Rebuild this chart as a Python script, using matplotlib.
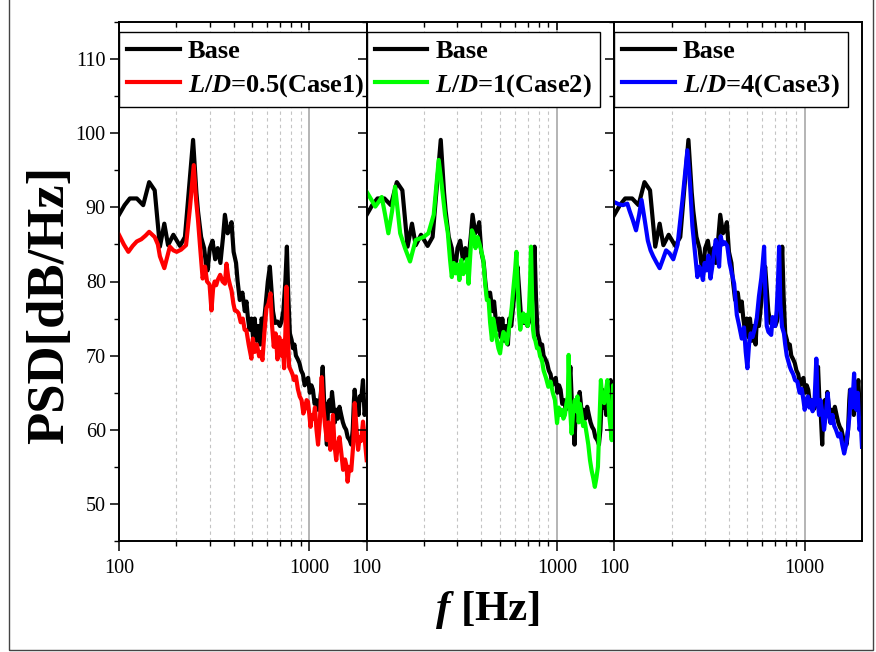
import matplotlib
matplotlib.use('Agg')
import matplotlib.pyplot as plt
from matplotlib.ticker import FixedLocator, MultipleLocator, NullFormatter, FixedFormatter
from matplotlib.patches import Rectangle

plt.rcParams['font.family'] = ['Liberation Serif', 'DejaVu Serif']
plt.rcParams['mathtext.fontset'] = 'custom'
plt.rcParams['mathtext.rm'] = 'Liberation Serif:bold'
plt.rcParams['mathtext.it'] = 'Liberation Serif:italic:bold'
plt.rcParams['mathtext.bf'] = 'Liberation Serif:bold'

# ---------------- data ----------------
base_f = [100, 107, 114, 124, 134, 144, 154, 164, 173, 181, 193, 209, 222, 245, 255, 260,
          270, 280, 286, 292, 300, 310, 320, 330, 341, 352, 360, 372, 382, 390, 400, 412,
          420, 431, 445, 458, 467, 476, 485, 496, 506, 516, 528, 540, 552, 561, 575, 590,
          605, 620, 632, 644, 660, 680, 700, 714, 730, 748, 762, 775, 790, 807, 820, 835,
          850, 870, 887, 905, 925, 945, 965, 985, 1005, 1025, 1044, 1065, 1090, 1111, 1130,
          1150, 1175, 1195, 1215, 1236, 1255, 1275, 1295, 1315, 1340, 1362, 1384, 1410,
          1440, 1470, 1500, 1528, 1560, 1590, 1628, 1660, 1690, 1715, 1730, 1760, 1790,
          1812, 1838, 1870, 1913, 1950, 1994]
base_v = [89.0, 90.3, 91.2, 91.2, 90.3, 93.4, 92.3, 84.7, 87.8, 84.9, 86.3, 84.8, 86.0, 99.1,
          92.0, 89.5, 86.0, 84.5, 82.5, 81.5, 84.5, 85.5, 83.0, 84.5, 82.5, 86.0, 89.0, 86.5,
          87.0, 88.0, 84.0, 82.5, 80.0, 77.5, 78.5, 76.0, 77.3, 75.0, 73.5, 75.0, 72.5, 75.0,
          72.0, 74.0, 71.5, 75.0, 74.0, 77.0, 80.0, 82.0, 79.0, 76.0, 74.4, 74.6, 74.0, 74.6,
          76.0, 80.0, 84.7, 78.0, 73.0, 72.1, 71.0, 71.5, 70.0, 69.5, 69.0, 68.0, 67.5, 66.0,
          66.7, 67.0, 65.0, 66.0, 65.4, 63.5, 64.0, 62.7, 63.0, 65.0, 68.5, 64.0, 62.0, 58.0,
          63.5, 64.0, 62.5, 65.1, 63.0, 61.0, 62.7, 61.5, 63.1, 62.0, 61.0, 60.4, 60.0, 59.0,
          58.6, 58.0, 60.0, 64.0, 65.4, 63.0, 64.0, 62.0, 64.5, 64.0, 66.7, 62.0, 63.6]

case1_f = [100, 106, 112, 118, 124, 131, 138, 144, 154, 160, 164, 173, 185, 193, 201, 212,
           225, 236, 247, 254, 260, 268, 275, 283, 290, 299, 306, 312, 318, 324, 330, 340,
           350, 360, 367, 375, 383, 390, 399, 406, 416, 425, 436, 447, 457, 467, 480, 496,
           505, 516, 530, 545, 556, 567, 580, 595, 610, 625, 637, 650, 665, 680, 695, 710,
           724, 737, 748, 758, 770, 783, 800, 815, 831, 850, 870, 890, 910, 930, 950, 967,
           983, 1000, 1014, 1030, 1050, 1070, 1090, 1111, 1135, 1161, 1185, 1210, 1235,
           1260, 1289, 1310, 1330, 1355, 1384, 1410, 1440, 1470, 1504, 1540, 1565, 1588,
           1620, 1660, 1700, 1730, 1760, 1803, 1840, 1870, 1913, 1950, 2000]
case1_v = [86.3, 85.0, 84.0, 84.8, 85.4, 85.7, 86.2, 86.7, 86.0, 85.0, 83.4, 81.8, 84.7,
           84.2, 84.0, 84.3, 84.9, 90.0, 95.7, 91.0, 88.3, 84.0, 80.4, 82.0, 80.0, 79.6,
           76.1, 79.0, 80.0, 79.5, 80.2, 80.9, 80.0, 79.7, 82.4, 80.5, 79.5, 78.8, 77.0,
           76.1, 76.0, 75.7, 74.5, 75.0, 73.5, 73.4, 71.5, 69.6, 72.3, 70.5, 71.5, 69.9,
           70.5, 69.4, 73.0, 76.4, 77.0, 78.4, 74.0, 71.2, 73.0, 69.5, 72.5, 70.0, 72.0,
           68.3, 73.0, 79.3, 73.0, 68.5, 68.0, 67.5, 66.7, 67.2, 65.5, 64.5, 64.0, 62.2,
           63.0, 64.0, 63.8, 62.0, 60.4, 62.0, 61.5, 63.0, 60.0, 58.0, 61.0, 67.1, 63.0,
           60.5, 58.6, 61.0, 57.3, 59.5, 62.0, 58.0, 55.9, 58.0, 59.0, 57.0, 54.6, 56.0,
           55.2, 53.0, 55.0, 54.5, 58.0, 63.6, 61.0, 57.3, 59.0, 58.5, 61.1, 59.0, 55.9]

case2_f = [100, 106, 111, 116, 120, 125, 130, 136, 141, 150, 159, 169, 175, 181, 190, 199,
           211, 225, 239, 248, 258, 267, 274, 280, 287, 293, 300, 307, 314, 322, 330, 337,
           343, 350, 357, 365, 373, 382, 392, 401, 410, 420, 428, 437, 445, 455, 462, 470,
           480, 492, 502, 512, 523, 534, 545, 555, 566, 578, 592, 602, 612, 622, 632, 641,
           652, 665, 678, 690, 700, 712, 722, 730, 738, 748, 757, 770, 785, 800, 815, 832,
           850, 875, 900, 925, 950, 975, 1000, 1020, 1040, 1058, 1080, 1100, 1120, 1140,
           1151, 1170, 1193, 1215, 1240, 1260, 1280, 1300, 1320, 1345, 1370, 1400, 1430,
           1460, 1490, 1520, 1550, 1580, 1610, 1640, 1670, 1700, 1730, 1770, 1800, 1840,
           1880, 1938, 1970, 2000]
case2_v = [92.1, 91.0, 90.1, 90.8, 91.4, 89.0, 86.5, 89.5, 92.8, 86.5, 84.5, 82.7, 84.2,
           85.6, 85.8, 86.0, 86.5, 89.0, 96.4, 93.0, 89.0, 86.5, 83.0, 80.6, 82.5, 81.1,
           82.3, 80.2, 82.9, 81.0, 82.0, 83.0, 79.7, 83.5, 86.9, 86.3, 84.5, 86.0, 85.0,
           84.0, 82.9, 79.5, 77.5, 77.5, 74.5, 72.1, 75.0, 74.0, 72.5, 71.0, 70.3, 72.0,
           73.2, 72.8, 71.6, 73.0, 74.5, 76.5, 79.5, 81.5, 84.0, 79.0, 75.5, 73.5, 75.0,
           75.7, 74.5, 75.5, 74.0, 76.0, 80.0, 84.7, 79.0, 73.5, 72.5, 72.0, 71.0, 71.0,
           69.9, 69.5, 68.0, 67.0, 65.8, 66.5, 65.0, 64.0, 60.9, 63.0, 62.0, 62.7, 61.5,
           62.0, 63.5, 64.5, 70.1, 63.0, 59.5, 62.5, 64.0, 62.5, 64.5, 61.0, 63.5, 62.0,
           60.5, 61.0, 59.5, 58.0, 55.9, 54.5, 53.5, 52.3, 53.5, 55.0, 61.0, 66.7, 64.0,
           63.6, 65.0, 66.7, 62.0, 58.6, 66.0, 63.5]

case3_f = [100, 106, 111, 117, 120, 125, 130, 135, 139, 145, 150, 155, 160, 167, 173, 180,
           187, 195, 204, 215, 228, 242, 250, 257, 265, 273, 280, 285, 292, 298, 305, 312,
           320, 327, 334, 341, 348, 355, 362, 370, 380, 392, 403, 415, 426, 440, 453, 467,
           480, 490, 500, 510, 520, 532, 545, 560, 575, 592, 602, 612, 622, 632, 645, 656,
           667, 678, 690, 700, 712, 724, 734, 745, 760, 778, 790, 805, 817, 835, 850, 870,
           890, 915, 940, 965, 985, 1000, 1020, 1040, 1058, 1080, 1100, 1125, 1151, 1170,
           1190, 1210, 1235, 1264, 1290, 1322, 1345, 1370, 1400, 1430, 1460, 1500, 1540,
           1575, 1612, 1650, 1690, 1720, 1745, 1770, 1790, 1818, 1840, 1870, 1900, 1940,
           1970, 2000]
case3_v = [90.7, 90.4, 90.3, 90.5, 89.6, 88.3, 86.9, 89.0, 91.0, 88.0, 85.5, 84.2, 83.4,
           82.5, 81.8, 83.0, 84.2, 83.8, 83.0, 85.0, 91.0, 97.7, 93.0, 87.5, 84.0, 80.6,
           82.0, 81.5, 80.2, 82.5, 81.5, 83.5, 80.4, 82.0, 84.0, 85.6, 84.5, 82.0, 86.1,
           85.0, 85.3, 84.8, 82.5, 81.0, 79.7, 75.5, 74.0, 72.3, 73.8, 70.5, 68.3, 71.5,
           73.0, 72.5, 73.5, 75.0, 78.0, 80.5, 82.5, 84.7, 78.0, 74.0, 73.2, 73.0, 72.8,
           75.2, 74.5, 74.0, 76.0, 80.0, 84.7, 77.0, 73.9, 73.0, 71.5, 70.0, 69.4, 68.5,
           68.0, 67.5, 66.7, 66.5, 65.0, 65.5, 64.0, 62.7, 64.0, 64.5, 63.0, 64.0, 62.5,
           63.5, 69.6, 64.0, 62.0, 64.0, 62.5, 60.0, 62.0, 64.9, 62.0, 60.9, 62.0, 60.5,
           60.0, 59.1, 59.5, 58.0, 56.8, 58.0, 60.0, 62.0, 65.4, 63.0, 64.5, 67.6, 63.0,
           62.7, 65.0, 60.0, 61.0, 57.7]

cases = [(case1_f, case1_v, '#ff0000', r'$\mathit{L/D}$=0.5(Case1)'),
         (case2_f, case2_v, '#00ff00', r'$\mathit{L/D}$=1(Case2)'),
         (case3_f, case3_v, '#0000ff', r'$\mathit{L/D}$=4(Case3)')]
base_label = 'Base'
xtick_major = [100, 1000]
xtick_minor = [200, 300, 400, 500, 600, 700, 800, 900]

# ---------------- layout ----------------
W, H = 876, 652
fig = plt.figure(figsize=(W / 100, H / 100), dpi=100)
L, R, T, B = 119, 862, 22, 541
pw = (R - L) / 3

for i, (cf, cv, col, lab) in enumerate(cases):
    ax = fig.add_axes([(L + i * pw) / W, 1 - B / H, pw / W, (B - T) / H])
    ax.set_xscale('log')
    ax.set_xlim(100, 2000)
    ax.set_ylim(45, 115)
    ax.xaxis.set_major_locator(FixedLocator(xtick_major))
    ax.xaxis.set_major_formatter(FixedFormatter([str(v) for v in xtick_major]))
    ax.xaxis.set_minor_locator(FixedLocator(xtick_minor))
    ax.xaxis.set_minor_formatter(NullFormatter())
    ax.yaxis.set_major_locator(MultipleLocator(10))
    ax.yaxis.set_minor_locator(MultipleLocator(5))
    ax.grid(which='minor', axis='x', ls=(0, (3, 3)), color='#c4c4c4', lw=0.8)
    ax.grid(which='major', axis='x', ls='-', color='#a8a8a8', lw=1.2)
    ax.set_axisbelow(True)
    for s in ax.spines.values():
        s.set_linewidth(1.2)
    ax.tick_params(axis='x', which='major', direction='out', length=7, width=1.1,
                   labelsize=14.5, pad=6, top=False)
    ax.tick_params(axis='x', which='minor', direction='out', length=3.5, width=1.0, top=False)
    ax.tick_params(axis='y', which='major', direction='out', length=6.5, width=1.1,
                   labelsize=14.5, pad=3, right=False)
    ax.tick_params(axis='y', which='minor', direction='out', length=3.5, width=1.0, right=False)
    if i > 0:
        ax.tick_params(axis='y', labelleft=False)

    ax.plot(base_f, base_v, color='black', lw=3.0, label=base_label, zorder=3)
    ax.plot(cf, cv, color=col, lw=3.0, label=lab, zorder=4)

    leg = ax.legend(loc='upper left', bbox_to_anchor=(0, 1 - 10 / (B - T)), borderaxespad=0,
                    frameon=True, fancybox=False, edgecolor='black', framealpha=1,
                    prop={'family': 'Liberation Serif', 'weight': 'bold', 'size': 19},
                    handlelength=2.0, handletextpad=0.3, borderpad=0.3, labelspacing=0.33)
    leg.get_frame().set_linewidth(1.0)
    leg.set_zorder(10)

    axt = ax.twiny()
    axt.set_xscale('log')
    axt.set_xlim(100, 2000)
    axt.xaxis.set_major_locator(FixedLocator(xtick_major))
    axt.xaxis.set_minor_locator(FixedLocator(xtick_minor))
    axt.xaxis.set_major_formatter(NullFormatter())
    axt.xaxis.set_minor_formatter(NullFormatter())
    axt.tick_params(axis='x', which='major', direction='in', length=6, width=1.1)
    axt.tick_params(axis='x', which='minor', direction='in', length=3.5, width=1.0)
    for s in axt.spines.values():
        s.set_linewidth(1.2)

fig.text(50 / W, 1 - 305 / H, 'PSD[dB/Hz]', rotation=90, ha='center', va='center',
         fontsize=38, fontweight='bold')
fig.text(488 / W, 1 - 610 / H, r'$\mathit{f}$ [Hz]', ha='center', va='center',
         fontsize=31, fontweight='bold')

fig.patches.append(Rectangle((9 / W, 2 / H), (873 - 9) / W, 1.2, transform=fig.transFigure,
                             fill=False, ec='#444444', lw=1.0))

fig.savefig('out.png', dpi=100)
